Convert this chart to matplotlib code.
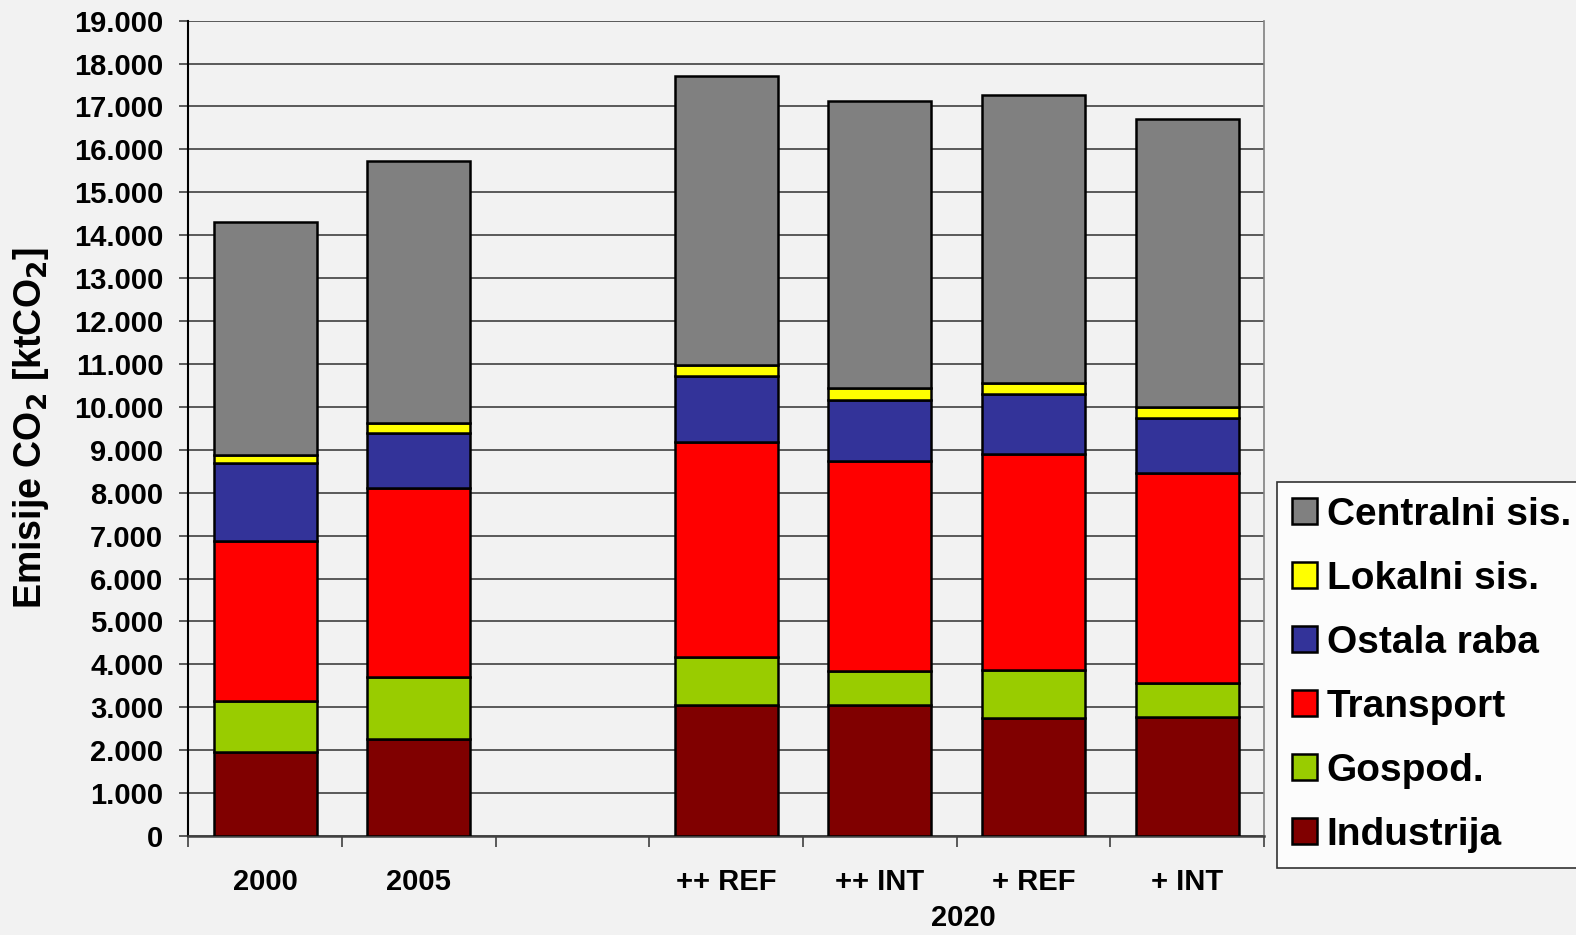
import numpy as np
import matplotlib
matplotlib.use("Agg")
import matplotlib.pyplot as plt
from matplotlib.ticker import FuncFormatter, FixedLocator

categories = ["2000", "2005", "", "++ REF", "++ INT", "+ REF", "+ INT"]
industrija = [1950, 2260, 0, 3050, 3050, 2760, 2780]
gospod = [1200, 1440, 0, 1110, 790, 1100, 780]
transport = [3730, 4400, 0, 5030, 4900, 5040, 4890]
ostala_raba = [1810, 1290, 0, 1540, 1420, 1400, 1300]
lokalni_sis = [180, 230, 0, 250, 270, 250, 250]
centralni_sis = [5440, 6120, 0, 6730, 6690, 6710, 6720]

series = [
    ("Industrija", industrija, "#800000"),
    ("Gospod.", gospod, "#99cc00"),
    ("Transport", transport, "#ff0000"),
    ("Ostala raba", ostala_raba, "#333399"),
    ("Lokalni sis.", lokalni_sis, "#ffff00"),
    ("Centralni sis.", centralni_sis, "#808080"),
]

plt.rcParams["font.family"] = ["Liberation Sans", "DejaVu Sans"]
plt.rcParams["font.weight"] = "bold"
plt.rcParams["mathtext.default"] = "bf"

bg = "#f2f2f2"
fig = plt.figure(figsize=(15.76, 9.35), dpi=100, facecolor=bg)
ax = fig.add_axes([0.1195, 0.1059, 0.8020 - 0.1195, 0.9779 - 0.1059])
ax.set_facecolor(bg)

x = np.arange(len(categories))
has_bar = np.array([c != "" for c in categories])
bottom = np.zeros(len(categories))
handles = []
for name, vals, col in series:
    vals = np.array(vals, dtype=float)
    h = ax.bar(x[has_bar], vals[has_bar], bottom=bottom[has_bar], width=0.67,
               color=col, edgecolor="black", linewidth=1.8, label=name, zorder=3)
    handles.append(h)
    bottom += vals

ax.set_xlim(-0.5, len(categories) - 0.5)
ax.set_ylim(0, 19000)
ax.set_yticks(np.arange(0, 19001, 1000))
ax.yaxis.set_major_formatter(FuncFormatter(lambda v, p: f"{int(v):,}".replace(",", ".")))
ax.grid(axis="y", color="#404040", linewidth=1.2, zorder=0)

ax.set_xticks(x)
ax.set_xticklabels(categories)
ax.xaxis.set_minor_locator(FixedLocator(np.arange(-0.5, len(categories), 1.0)))
ax.tick_params(axis="x", which="major", length=0, pad=23, labelsize=21)
ax.tick_params(axis="x", which="minor", length=8, width=1.2, color="#404040", direction="out")
ax.tick_params(axis="y", length=6.5, width=1.2, color="#404040", pad=11.5, labelsize=21)

ax.spines["top"].set_visible(False)
ax.spines["left"].set_color("black")
ax.spines["left"].set_linewidth(1.5)
ax.spines["bottom"].set_color("#404040")
ax.spines["bottom"].set_linewidth(1.8)
ax.spines["right"].set_color("#808080")
ax.spines["right"].set_linewidth(1.2)

ax.set_ylabel("Emisije CO$_2$ [ktCO$_2$]", fontsize=27, fontweight="bold")
ax.yaxis.set_label_coords(-0.128, 0.5)

fig.text(963 / 1576, 1 - 918 / 935, "2020", ha="center", va="center",
         fontsize=21, fontweight="bold")

leg = fig.legend(handles[::-1], [s[0] for s in series][::-1],
                 loc="upper left", bbox_to_anchor=(1277 / 1576, 1 - 482 / 935),
                 fontsize=28, frameon=True, fancybox=False, edgecolor="black",
                 facecolor="white", handlelength=0.64, handleheight=0.64,
                 handletextpad=0.26, labelspacing=0.72, borderpad=0.38, borderaxespad=0)
leg.get_frame().set_linewidth(1.2)
for t in leg.get_texts():
    t.set_fontweight("bold")

fig.savefig("out.png", dpi=100, facecolor=bg)
